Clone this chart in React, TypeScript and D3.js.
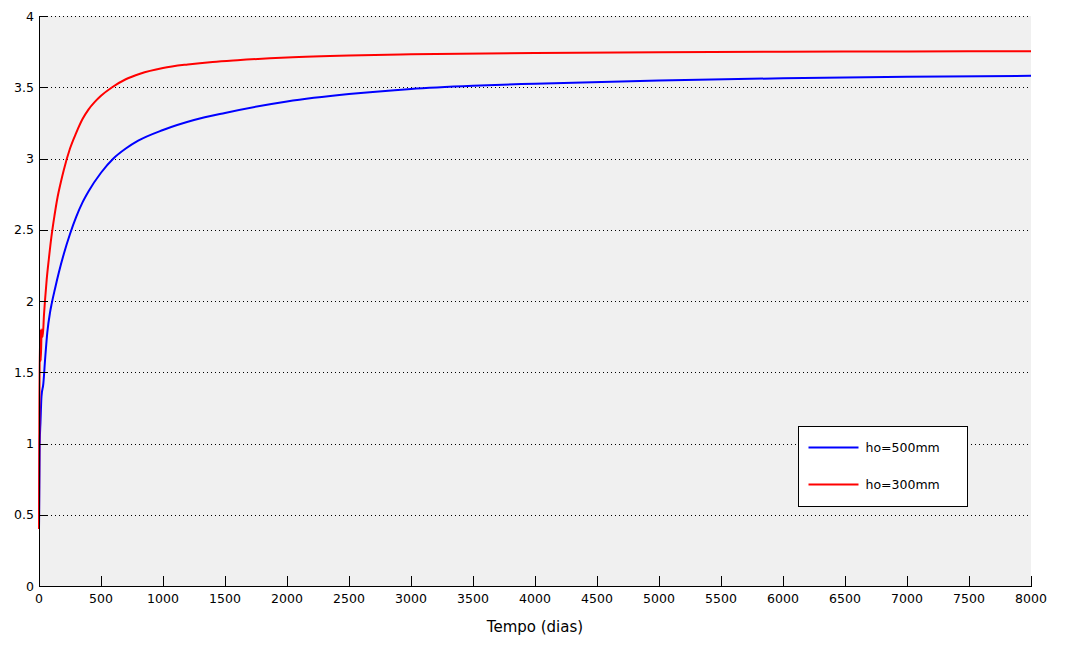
import * as d3 from "d3";

type Pt = { t: number; v: number };

// dias
const daysRed = [0, 3, 8, 14, 22, 30, 40, 48, 62, 80, 100, 125, 150, 175, 200, 250, 300, 350, 400, 450, 500, 590, 700, 815, 1000, 1200, 1400, 1600, 2000, 2500, 3000, 4000, 5000, 6000, 7000, 8000];
const valsRed = [0.4, 1.2, 1.8, 1.58, 1.8, 1.75, 1.9, 2.0, 2.15, 2.3, 2.45, 2.6, 2.73, 2.83, 2.92, 3.07, 3.18, 3.275, 3.345, 3.397, 3.44, 3.5, 3.556, 3.595, 3.635, 3.66, 3.678, 3.69, 3.708, 3.722, 3.731, 3.741, 3.746, 3.749, 3.751, 3.753];

const daysBlue = [0, 6, 12, 20, 35, 50, 67, 89, 102, 130, 160, 200, 250, 300, 350, 400, 500, 600, 700, 800, 1000, 1250, 1500, 2000, 2500, 3000, 3500, 4000, 5000, 6000, 7000, 8000];
const valsBlue = [0.4, 1.0, 1.15, 1.33, 1.42, 1.6, 1.78, 1.92, 1.98, 2.09, 2.2, 2.33, 2.47, 2.59, 2.69, 2.77, 2.9, 3.0, 3.07, 3.125, 3.2, 3.27, 3.32, 3.4, 3.452, 3.488, 3.51, 3.525, 3.548, 3.563, 3.573, 3.58];

const xTicks = d3.range(0, 8001, 500);
const yTicks = d3.range(0, 4.01, 0.5);

const legendItems = [
  { label: "ho=500mm", color: "#0000ff" },
  { label: "ho=300mm", color: "#ff0000" },
];

const W = 1074;
const H = 647;
const left = 39;
const right = 1031;
const top = 16;
const bottom = 586;
const font = "DejaVu Sans, Verdana, sans-serif";

export default function App() {
  const x = d3.scaleLinear().domain([0, 8000]).range([left, right]);
  const y = d3.scaleLinear().domain([0, 4]).range([bottom, top]);

  const line = d3
    .line<Pt>()
    .x((p) => x(p.t))
    .y((p) => y(p.v))
    .curve(d3.curveMonotoneX);

  const red = daysRed.map((t, i) => ({ t, v: valsRed[i] }));
  const blue = daysBlue.map((t, i) => ({ t, v: valsBlue[i] }));

  const fmt = (v: number) => String(v);

  return (
    <svg
      width={W}
      height={H}
      style={{ position: "absolute", left: 0, top: 0, background: "#fff" }}
      fontFamily={font}
    >
      <rect x={left} y={top} width={right - left} height={bottom - top} fill="#f0f0f0" />

      {yTicks.filter((v) => v > 0).map((v) => (
        <line
          key={"g" + v}
          x1={left}
          x2={right}
          y1={Math.round(y(v)) + 0.5}
          y2={Math.round(y(v)) + 0.5}
          stroke="#000"
          strokeWidth={1}
          strokeDasharray="1,3"
        />
      ))}

      <path d={line(blue) ?? ""} fill="none" stroke="#0000ff" strokeWidth={2} />
      <path d={line(red) ?? ""} fill="none" stroke="#ff0000" strokeWidth={2} />

      <line x1={left + 0.5} x2={left + 0.5} y1={top} y2={bottom} stroke="#000" />
      <line x1={left} x2={right + 1} y1={bottom + 0.5} y2={bottom + 0.5} stroke="#000" />

      {yTicks.map((v) => (
        <g key={"y" + v}>
          <line
            x1={left}
            x2={left + 9}
            y1={Math.round(y(v)) + 0.5}
            y2={Math.round(y(v)) + 0.5}
            stroke="#000"
          />
          <text x={left - 5} y={y(v) + 4.5} textAnchor="end" fontSize={12.5}>
            {fmt(v)}
          </text>
        </g>
      ))}

      {xTicks.map((t) => (
        <g key={"x" + t}>
          <line
            x1={Math.round(x(t)) + 0.5}
            x2={Math.round(x(t)) + 0.5}
            y1={bottom}
            y2={bottom - 10}
            stroke="#000"
          />
          <text x={x(t)} y={bottom + 17} textAnchor="middle" fontSize={12.5}>
            {fmt(t)}
          </text>
        </g>
      ))}

      <text x={(left + right) / 2} y={bottom + 46} textAnchor="middle" fontSize={15}>
        Tempo (dias)
      </text>

      <g transform="translate(798.5,426.5)">
        <rect width={169} height={80} fill="#fff" stroke="#000" />
        {legendItems.map((it, i) => (
          <g key={it.label} transform={`translate(0,${21 + i * 37})`}>
            <line x1={10} x2={60} y1={0} y2={0} stroke={it.color} strokeWidth={2} />
            <text x={67} y={4.5} fontSize={12.5}>
              {it.label}
            </text>
          </g>
        ))}
      </g>
    </svg>
  );
}
